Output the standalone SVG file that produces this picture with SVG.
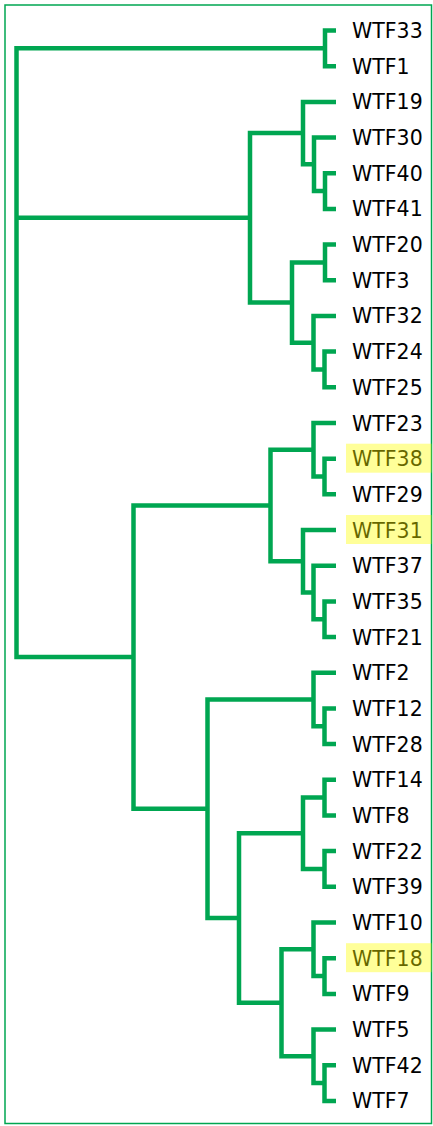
<svg xmlns="http://www.w3.org/2000/svg" width="433" height="1126" viewBox="0 0 433 1126">
<style>
.frame{fill:none;stroke:#00a651;stroke-width:1.5}
.edge{fill:none;stroke:#00a651;stroke-width:4.5;stroke-linejoin:miter;stroke-linecap:butt}
.lbl{font-family:"DejaVu Sans","Verdana",sans-serif;font-size:20.5px;fill:#000}
.hl{fill:#ffff00;opacity:0.4}
</style>
<rect class="frame" x="5" y="5" width="426.5" height="1118.5"/>
<g id="connectors">
<path class="edge" d="M325 48.3 H16.5 V657.1 H133.5"/>
<path class="edge" d="M16.5 217.8 H250"/>
<path class="edge" d="M336 30.5 H325 V66.2 H336"/>
<path class="edge" d="M303 133.1 H250 V302.6 H292"/>
<path class="edge" d="M336 101.9 H303 V164.3 H314"/>
<path class="edge" d="M336 137.5 H314 V191.1 H325"/>
<path class="edge" d="M336 173.2 H325 V208.9 H336"/>
<path class="edge" d="M325 262.4 H292 V342.7 H313.5"/>
<path class="edge" d="M336 244.6 H325 V280.3 H336"/>
<path class="edge" d="M336 315.9 H313.5 V369.5 H324.5"/>
<path class="edge" d="M336 351.6 H324.5 V387.3 H336"/>
<path class="edge" d="M270.5 505.5 H133.5 V808.8 H207.5"/>
<path class="edge" d="M313.5 449.8 H270.5 V561.2 H303"/>
<path class="edge" d="M336 423 H313.5 V476.5 H324.5"/>
<path class="edge" d="M336 458.7 H324.5 V494.3 H336"/>
<path class="edge" d="M336 530 H303 V592.5 H313.5"/>
<path class="edge" d="M336 565.7 H313.5 V619.2 H324.5"/>
<path class="edge" d="M336 601.4 H324.5 V637.1 H336"/>
<path class="edge" d="M313.5 699.5 H207.5 V918 H239"/>
<path class="edge" d="M336 672.7 H313.5 V726.3 H324.5"/>
<path class="edge" d="M336 708.4 H324.5 V744.1 H336"/>
<path class="edge" d="M303 833.3 H239 V1002.8 H281.5"/>
<path class="edge" d="M324.5 797.6 H303 V869 H324.5"/>
<path class="edge" d="M336 779.8 H324.5 V815.5 H336"/>
<path class="edge" d="M336 851.1 H324.5 V886.8 H336"/>
<path class="edge" d="M313.5 949.3 H281.5 V1056.3 H313.5"/>
<path class="edge" d="M336 922.5 H313.5 V976 H324.5"/>
<path class="edge" d="M336 958.2 H324.5 V993.9 H336"/>
<path class="edge" d="M336 1029.5 H313.5 V1083.1 H324.5"/>
<path class="edge" d="M336 1065.2 H324.5 V1100.9 H336"/>
</g>
<g id="WTF33"><text class="lbl" x="352" y="38">WTF33</text></g>
<g id="WTF1"><text class="lbl" x="352" y="73.7">WTF1</text></g>
<g id="WTF19"><text class="lbl" x="352" y="109.4">WTF19</text></g>
<g id="WTF30"><text class="lbl" x="352" y="145">WTF30</text></g>
<g id="WTF40"><text class="lbl" x="352" y="180.7">WTF40</text></g>
<g id="WTF41"><text class="lbl" x="352" y="216.4">WTF41</text></g>
<g id="WTF20"><text class="lbl" x="352" y="252.1">WTF20</text></g>
<g id="WTF3"><text class="lbl" x="352" y="287.8">WTF3</text></g>
<g id="WTF32"><text class="lbl" x="352" y="323.4">WTF32</text></g>
<g id="WTF24"><text class="lbl" x="352" y="359.1">WTF24</text></g>
<g id="WTF25"><text class="lbl" x="352" y="394.8">WTF25</text></g>
<g id="WTF23"><text class="lbl" x="352" y="430.5">WTF23</text></g>
<g id="WTF38"><text class="lbl" x="352" y="466.2">WTF38</text><rect class="hl" x="346" y="443.7" width="85.5" height="29"/></g>
<g id="WTF29"><text class="lbl" x="352" y="501.8">WTF29</text></g>
<g id="WTF31"><text class="lbl" x="352" y="537.5">WTF31</text><rect class="hl" x="346" y="515" width="85.5" height="29"/></g>
<g id="WTF37"><text class="lbl" x="352" y="573.2">WTF37</text></g>
<g id="WTF35"><text class="lbl" x="352" y="608.9">WTF35</text></g>
<g id="WTF21"><text class="lbl" x="352" y="644.6">WTF21</text></g>
<g id="WTF2"><text class="lbl" x="352" y="680.2">WTF2</text></g>
<g id="WTF12"><text class="lbl" x="352" y="715.9">WTF12</text></g>
<g id="WTF28"><text class="lbl" x="352" y="751.6">WTF28</text></g>
<g id="WTF14"><text class="lbl" x="352" y="787.3">WTF14</text></g>
<g id="WTF8"><text class="lbl" x="352" y="823">WTF8</text></g>
<g id="WTF22"><text class="lbl" x="352" y="858.6">WTF22</text></g>
<g id="WTF39"><text class="lbl" x="352" y="894.3">WTF39</text></g>
<g id="WTF10"><text class="lbl" x="352" y="930">WTF10</text></g>
<g id="WTF18"><text class="lbl" x="352" y="965.7">WTF18</text><rect class="hl" x="346" y="943.2" width="85.5" height="29"/></g>
<g id="WTF9"><text class="lbl" x="352" y="1001.4">WTF9</text></g>
<g id="WTF5"><text class="lbl" x="352" y="1037">WTF5</text></g>
<g id="WTF42"><text class="lbl" x="352" y="1072.7">WTF42</text></g>
<g id="WTF7"><text class="lbl" x="352" y="1108.4">WTF7</text></g>
</svg>
